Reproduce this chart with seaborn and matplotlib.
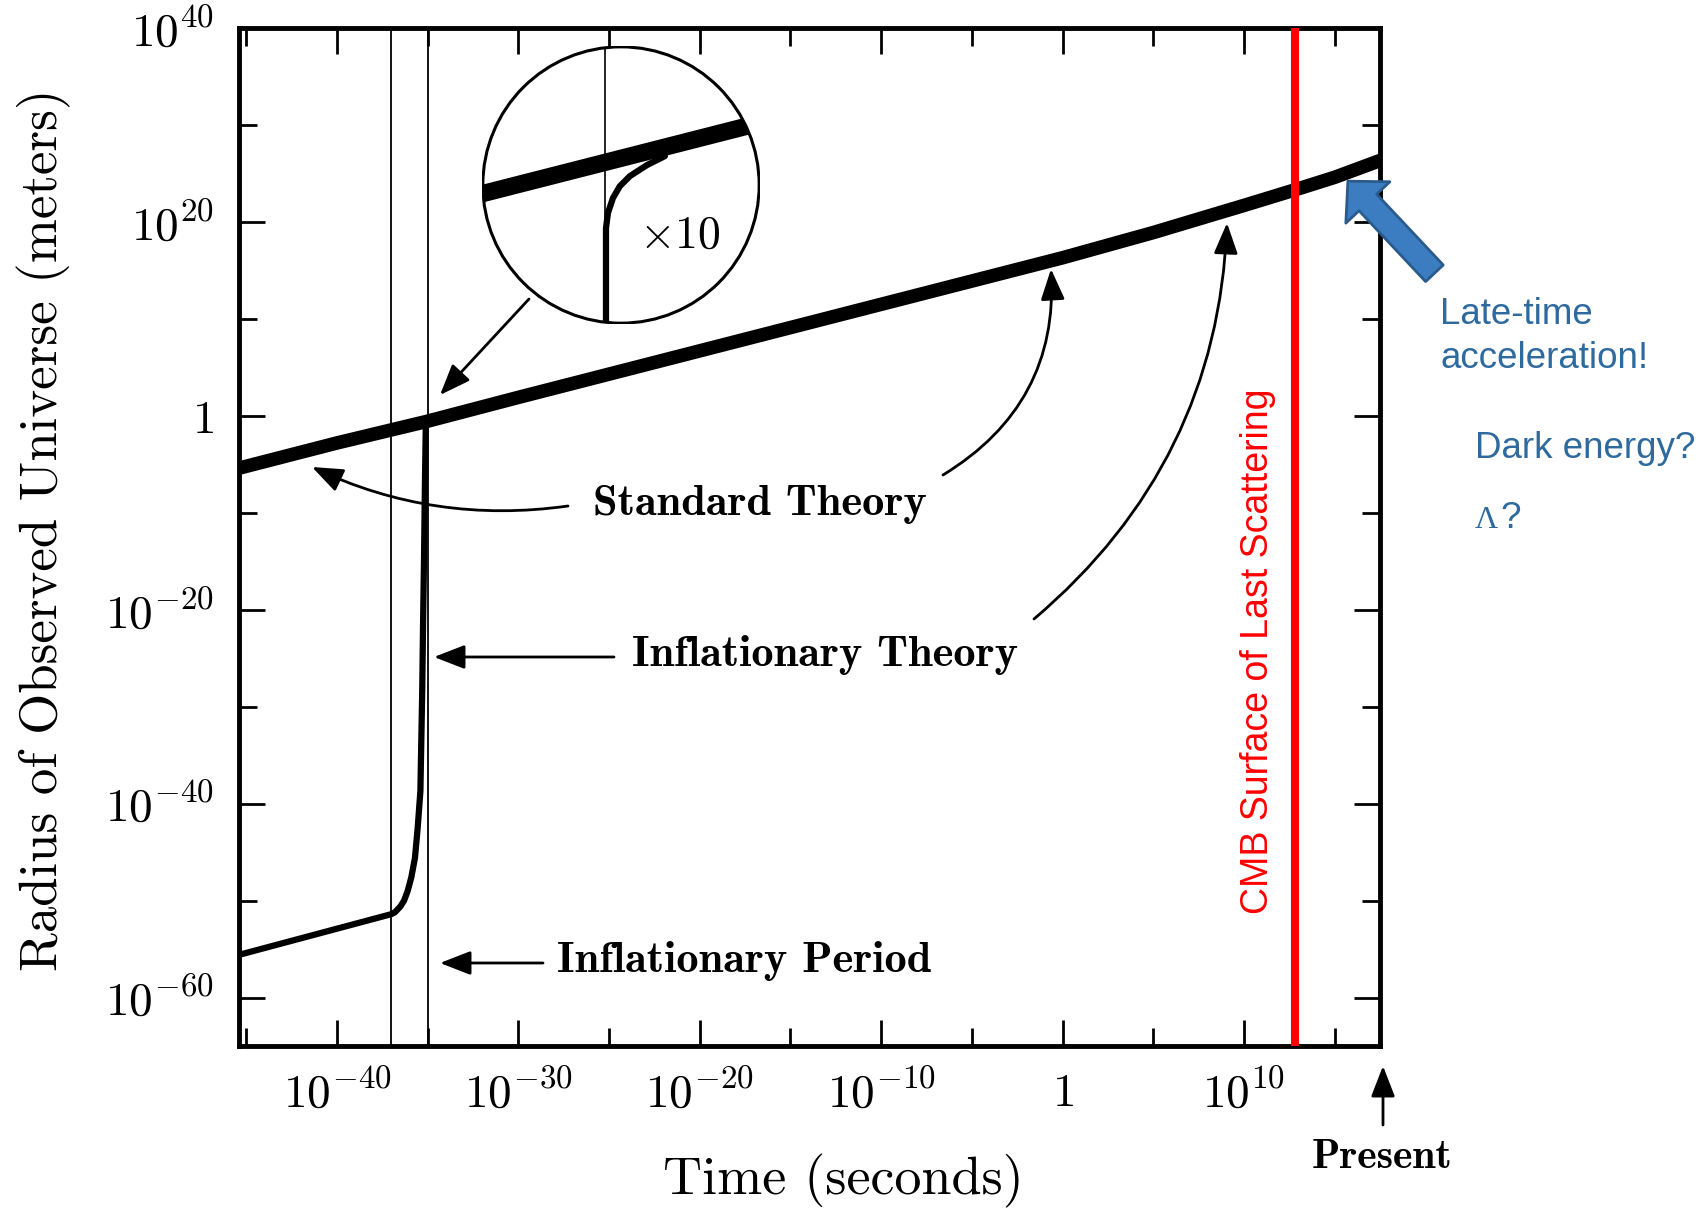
import numpy as np
import matplotlib
matplotlib.use("Agg")
import matplotlib.pyplot as plt
import seaborn as sns
from matplotlib.patches import Circle, FancyArrowPatch

# ---------------------------------------------------------------------------
# Data (log10 of time in seconds, log10 of radius in metres)
# ---------------------------------------------------------------------------
std_log_t = [-45.4, -40.0, -35.1, -30.0, -20.0, -10.0, 0.0, 5.0, 10.0, 12.8, 15.0, 17.6]
std_log_r = [-5.4, -2.8, -0.6, 1.9, 6.7, 11.5, 16.3, 18.9, 21.7, 23.3, 24.6, 26.4]

inf_log_t = [-45.4, -37.0, -36.8, -36.5, -36.3, -36.1, -35.9, -35.7, -35.55,
             -35.4, -35.35, -35.3, -35.25, -35.2, -35.15, -35.1]
inf_log_r = [-55.6, -51.4, -51.2, -50.6, -50.0, -49.0, -47.6, -45.6, -42.5,
             -38.7, -33.5, -28.4, -21.0, -14.7, -7.0, -0.6]

inflation_period_log_t = [-37.0, -35.0]
cmb_log_t = 12.8
present_log_t = 17.5

x_tick_exp = [-40, -30, -20, -10, 0, 10]
x_tick_labels = [r"$10^{-40}$", r"$10^{-30}$", r"$10^{-20}$", r"$10^{-10}$", r"$1$", r"$10^{10}$"]
x_minor_exp = [-45, -35, -25, -15, -5, 5, 15]
y_tick_exp = [-60, -40, -20, 0, 20, 40]
y_tick_labels = [r"$10^{-60}$", r"$10^{-40}$", r"$10^{-20}$", r"$1$", r"$10^{20}$", r"$10^{40}$"]
y_minor_exp = [-50, -30, -10, 10, 30]

# magnified (x10) view around the end of inflation, in lens coordinates
mag_std_u = [-0.1, 1.1]
mag_std_v = [0.443, 0.749]
mag_period_u = 0.442
mag_inf_u = [0.446, 0.446, 0.453, 0.471, 0.496, 0.532, 0.594, 0.658]
mag_inf_v = [-0.05, 0.345, 0.399, 0.453, 0.496, 0.532, 0.572, 0.604]

# ---------------------------------------------------------------------------
sns.set_theme(style="white")
plt.rcParams["mathtext.fontset"] = "cm"
plt.rcParams["font.family"] = ["DejaVu Sans"]

W, H = 1703, 1208
fig = plt.figure(figsize=(W / 100, H / 100), dpi=100)
fig.patch.set_facecolor("white")


def fx(px):
    return px / W


def fy(py):
    return 1 - py / H


ax = fig.add_axes([fx(239), fy(1046), 1141 / W, 1018 / H])
ax.set_xscale("log")
ax.set_yscale("log")
ax.set_xlim(10 ** -45.4, 10 ** 17.5)
ax.set_ylim(1e-65, 1e40)
ax.set_facecolor("white")

t_std = 10.0 ** np.array(std_log_t)
r_std = 10.0 ** np.array(std_log_r)
t_inf = 10.0 ** np.array(inf_log_t)
r_inf = 10.0 ** np.array(inf_log_r)

# inflationary period boundaries
for lt in inflation_period_log_t:
    ax.axvline(10.0 ** lt, color="black", lw=1.3, zorder=1)

sns.lineplot(x=t_inf, y=r_inf, ax=ax, color="black", linewidth=4.5,
             sort=False, estimator=None, zorder=3)
sns.lineplot(x=t_std, y=r_std, ax=ax, color="black", linewidth=9.8,
             sort=False, estimator=None, zorder=4)
for line in ax.lines:
    line.set_solid_capstyle("butt")
    line.set_solid_joinstyle("round")

# CMB last scattering
ax.axvline(10.0 ** cmb_log_t, color="#ff0000", lw=5.8, zorder=6)

# ticks
ax.set_xticks([10.0 ** e for e in x_tick_exp])
ax.set_xticklabels(x_tick_labels)
ax.set_xticks([10.0 ** e for e in x_minor_exp], minor=True)
ax.set_yticks([10.0 ** e for e in y_tick_exp])
ax.set_yticklabels(y_tick_labels)
ax.set_yticks([10.0 ** e for e in y_minor_exp], minor=True)
ax.xaxis.set_minor_formatter(matplotlib.ticker.NullFormatter())
ax.yaxis.set_minor_formatter(matplotlib.ticker.NullFormatter())
ax.tick_params(which="both", direction="in", top=True, right=True,
               bottom=True, left=True,
               width=2.0, color="black", labelcolor="black")
ax.tick_params(which="major", length=19, labelsize=34)
ax.tick_params(axis="x", which="major", pad=18)
ax.tick_params(axis="y", which="major", pad=18)
ax.tick_params(which="minor", length=13)
for sp in ax.spines.values():
    sp.set_visible(True)
    sp.set_color("black")
    sp.set_linewidth(3.5)

ax.set_xlabel("Time (seconds)", fontfamily="cmr10", fontsize=39, color="black")
ax.set_ylabel("Radius of Observed Universe (meters)", fontfamily="cmr10",
              fontsize=38, color="black")
ax.xaxis.label.set_va("center")
ax.xaxis.set_label_coords((843 - 239) / 1141, (1046 - 1181) / 1018)
ax.yaxis.label.set_va("center")
ax.yaxis.set_label_coords((44 - 239) / 1141, (1046 - 530) / 1018)

# ---------------------------------------------------------------------------
# annotations
bold = dict(fontfamily="cmb10", color="black", ha="center", va="center")
fig.text(fx(760), fy(505), "Standard Theory", fontsize=32, **bold)
fig.text(fx(825), fy(655), "Inflationary Theory", fontsize=32, **bold)
fig.text(fx(744), fy(961), "Inflationary Period", fontsize=32, **bold)
fig.text(fx(1382), fy(1158), "Present", fontsize=30, **bold)


def arrow(p0, p1, rad=0.0):
    a = FancyArrowPatch(posA=(fx(p0[0]), fy(p0[1])), posB=(fx(p1[0]), fy(p1[1])),
                        transform=fig.transFigure,
                        arrowstyle="-|>,head_length=0.9,head_width=0.35",
                        mutation_scale=21, lw=2.0, color="black",
                        connectionstyle=f"arc3,rad={rad}",
                        shrinkA=0, shrinkB=0)
    fig.add_artist(a)


arrow((568, 506), (312, 467), rad=-0.15)
arrow((943, 475), (1051, 269), rad=0.3)
arrow((1034, 619), (1227, 223), rad=0.22)
arrow((614, 657), (434, 657))
arrow((543, 963), (440, 963))
arrow((529, 299), (440, 395))
arrow((1383, 1125), (1383, 1066))

# CMB label
fig.text(fx(1258), fy(651), "CMB Surface of Last Scattering", rotation=90,
         fontfamily="Liberation Sans", fontsize=27, color="#ff0000",
         ha="center", va="center")

# late-time acceleration arrow
ax.annotate("", xy=(10 ** 15.73, 10 ** 24.2), xytext=(10 ** 20.5, 10 ** 14.7),
            arrowprops=dict(arrowstyle="simple,head_length=0.7,head_width=1.45,tail_width=0.58",
                            mutation_scale=30, fc="#3b7dc0", ec="#2a5b8c", lw=2,
                            shrinkA=0, shrinkB=0),
            annotation_clip=False, zorder=8)

blue = "#2f6a9f"
fig.text(fx(1440), fy(315), "Late-time", fontfamily="Liberation Sans", fontsize=26.5,
         color=blue, ha="left", va="center")
fig.text(fx(1440), fy(359), "acceleration!", fontfamily="Liberation Sans", fontsize=26.5,
         color=blue, ha="left", va="center")
fig.text(fx(1475), fy(449), "Dark energy?", fontfamily="Liberation Sans", fontsize=26.5,
         color=blue, ha="left", va="center")
fig.text(fx(1475), fy(521), "Λ", fontfamily=["Liberation Serif", "DejaVu Serif"], fontsize=23,
         color=blue, ha="left", va="center")
fig.text(fx(1500), fy(519), "?", fontfamily="Liberation Sans", fontsize=26.5,
         color=blue, ha="left", va="center")

# ---------------------------------------------------------------------------
# magnifying lens
lens = fig.add_axes([fx(482), fy(324), 278 / W, 278 / H])
lens.set_xlim(0, 1)
lens.set_ylim(0, 1)
lens.axis("off")
lens.patch.set_alpha(0)
disk = Circle((0.5, 0.5), 0.497, transform=lens.transData, facecolor="white",
              edgecolor="black", lw=2.2, zorder=1)
lens.add_patch(disk)
clip = Circle((0.5, 0.5), 0.497, transform=lens.transData)
l1, = lens.plot([mag_period_u, mag_period_u], [-0.1, 1.1], color="black", lw=1.2, zorder=2)
l2, = lens.plot(mag_std_u, mag_std_v, color="black", lw=12.5, zorder=3, solid_capstyle="butt")
l3, = lens.plot(mag_inf_u, mag_inf_v, color="black", lw=4.5, zorder=3)
for ln in (l1, l2, l3):
    ln.set_clip_path(clip)
lens.text(0.71, 0.32, r"$\times10$", fontsize=33, color="black", ha="center", va="center")

fig.savefig("out.png", dpi=100, facecolor="white")
